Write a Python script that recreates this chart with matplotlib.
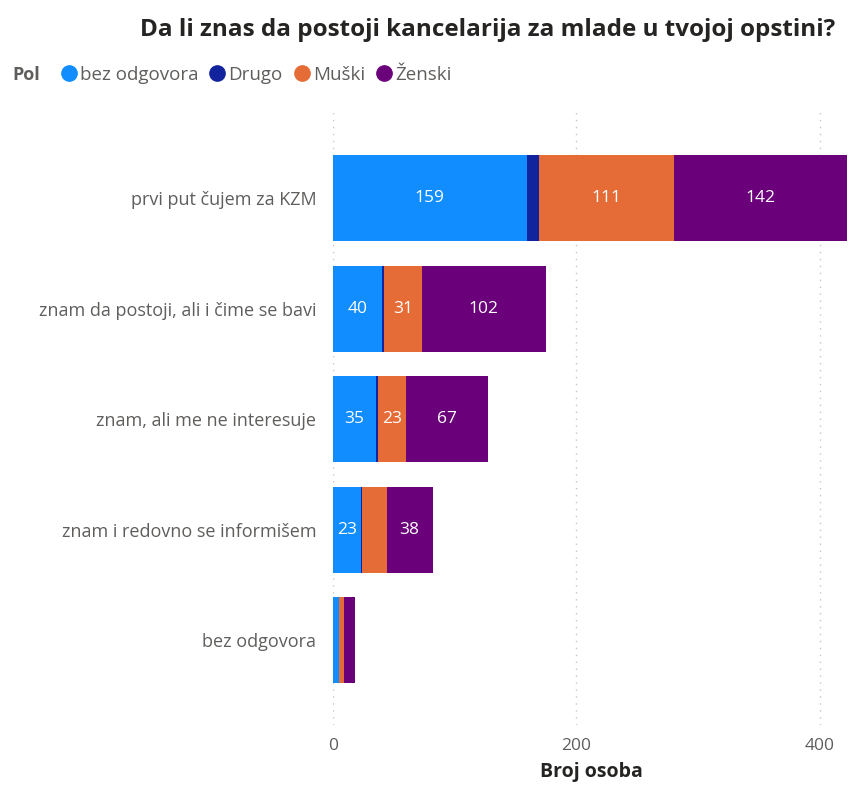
import numpy as np
import matplotlib.pyplot as plt
from matplotlib.lines import Line2D

plt.rcParams['font.family'] = ['Open Sans', 'DejaVu Sans']

# podaci
categories = ['prvi put čujem za KZM', 'znam da postoji, ali i čime se bavi',
              'znam, ali me ne interesuje', 'znam i redovno se informišem', 'bez odgovora']
series = ['bez odgovora', 'Drugo', 'Muški', 'Ženski']
bez_odgovora = [159, 40, 35, 23, 5]
drugo = [10, 2, 2, 1, 0]
muski = [111, 31, 23, 20, 4]
zenski = [142, 102, 67, 38, 9]
colors = ['#118DFF', '#12239E', '#E66C37', '#6B007B']

values = [bez_odgovora, drugo, muski, zenski]

fig = plt.figure(figsize=(8.49, 7.89), dpi=100)
ax = fig.add_axes([333/849, 1 - 725/789, 1 - 333/849, 615/789])

y = np.arange(len(categories))
left = np.zeros(len(categories))
for vals, col in zip(values, colors):
    vals = np.array(vals)
    ax.barh(y, vals, left=left, height=0.78, color=col, linewidth=0)
    for yi, v, l in zip(y, vals, left):
        # samo dovoljno siroki segmenti dobijaju oznaku
        if v >= 23:
            ax.text(l + v / 2, yi, str(v), ha='center', va='center',
                    color='white', fontsize=12.5)
    left += vals

ax.set_xlim(0, 424)
ax.set_ylim(4.77, -0.8)
ax.set_yticks(y)
ax.set_yticklabels(categories, fontsize=13, color='#605E5C')
ax.set_xticks([0, 200, 400])
ax.set_xticklabels(['0', '200', '400'], fontsize=12.5, color='#605E5C')
ax.tick_params(length=0, pad=9)
ax.tick_params(axis='y', pad=12)
ax.grid(axis='x', linestyle=(0, (1, 4)), color='#C8C6C4', linewidth=1)
ax.set_axisbelow(True)
for s in ax.spines.values():
    s.set_visible(False)
ax.set_xlabel('Broj osoba', fontsize=14, fontweight='bold', color='#252423', labelpad=6)

fig.text(835/849, 1 - 30/789, 'Da li znas da postoji kancelarija za mlade u tvojoj opstini?',
         ha='right', va='center', fontsize=17.5, fontweight='bold', color='#252423')

fig.text(12/849, 1 - 75/789, 'Pol', ha='left', va='center', fontsize=13,
         fontweight='bold', color='#605E5C')
handles = [Line2D([], [], marker='o', linestyle='', color=c, markersize=11) for c in colors]
fig.legend(handles, series, loc='center left', bbox_to_anchor=(52/849, 1 - 75/789),
           ncol=4, frameon=False, handletextpad=0.1, columnspacing=0.5,
           fontsize=13.5, labelcolor='#605E5C', borderaxespad=0, handlelength=1.0)

plt.savefig('out.png', dpi=100)
